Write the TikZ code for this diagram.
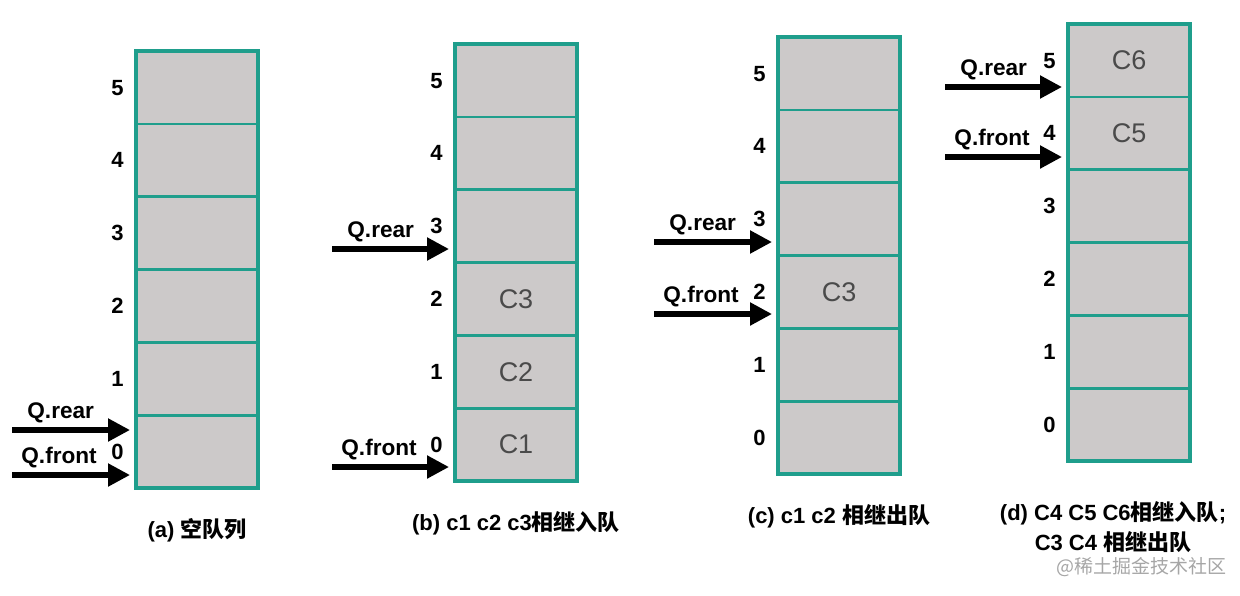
\documentclass[tikz,border=0pt]{standalone}
\usepackage{fontspec}
\setmainfont{Liberation Sans}
\newfontfamily\cjk{Noto Sans CJK SC}
\usetikzlibrary{positioning,arrows.meta}
\definecolor{qteal}{HTML}{1F9E8C}
\definecolor{qgrey}{HTML}{CCC9C9}
\definecolor{qtext}{HTML}{4A4A4A}
\tikzset{
  cellbox/.style={draw=qteal,fill=qgrey,line width=1.4pt,minimum width=61pt,minimum height=36.4pt,inner sep=0pt,outer sep=0pt},
  outerbox/.style={draw=qteal,line width=2pt},
  celltext/.style={text=qtext,font=\fontsize{13.5}{15}\selectfont},
  idx/.style={font=\bfseries\fontsize{11}{13}\selectfont,inner sep=0pt},
  ptr/.style={line width=2.6pt,shorten >=3pt,-{Triangle[length=11pt,width=11pt]}},
  ptrlabel/.style={font=\bfseries\fontsize{11.3}{13}\selectfont,inner sep=0pt,anchor=base west},
  qcaption/.style={font=\bfseries\fontsize{11}{15}\selectfont,align=center,inner sep=0pt},
}
\begin{document}
\begin{tikzpicture}[x=0.5pt,y=-0.5pt]
\useasboundingbox (0,0) rectangle (1240,595);
% the four queues
\foreach \col/\cx/\cy in {a/197/451.6,b/516/444.6,c/839/437.6,d/1129/424.6}{
  \node[cellbox] (\col0) at (\cx,\cy) {};
  \foreach \i [remember=\i as \lasti (initially 0)] in {1,...,5}
    \node[cellbox,above=0pt of \col\lasti] (\col\i) {};
  \draw[outerbox] (\col5.north west) rectangle (\col0.south east);
  \foreach \i in {0,...,5}
    \node[idx,left=6pt of \col\i] (\col n\i) {\i};
}
% elements
\node[celltext] (b0t) at (b0) {C1};
\node[celltext] (b1t) at (b1) {C2};
\node[celltext] (b2t) at (b2) {C3};
\node[celltext] (c2t) at (c2) {C3};
\node[celltext] (d4t) at (d4) {C5};
\node[celltext] (d5t) at (d5) {C6};
% pointers
\coordinate (ra) at (12,430);  \coordinate (fa) at (12,475);
\coordinate (rb) at (332,249); \coordinate (fb) at (332,467);
\coordinate (rc) at (654,242); \coordinate (fc) at (654,314);
\coordinate (rd) at (945,87);  \coordinate (fd) at (945,157);
\foreach \q/\c in {a/a,b/b,c/c,d/d}{
  \draw[ptr] (r\q) -- (r\q -| \c0.west);
  \draw[ptr] (f\q) -- (f\q -| \c0.west);
  \node[ptrlabel] (lr\q) at ([xshift=7.5pt,yshift=6pt]r\q) {Q.rear};
  \node[ptrlabel] (lf\q) at ([xshift=4.5pt,yshift=6pt]f\q) {Q.front};
}
% captions
\node[qcaption,below=15pt of a0] (capa) {(a) {\cjk 空队列}};
\node[qcaption,below=15pt of b0] (capb) {(b) c1 c2 c3{\cjk 相继入队}};
\node[qcaption,below=15pt of c0] (capc) {(c) c1 c2 {\cjk 相继出队}};
\node[qcaption,below=20pt of d0,xshift=-8pt] (capd) {(d) C4 C5 C6{\cjk 相继入队};\\C3 C4 {\cjk 相继出队}};
\node[text=black!35,font=\cjk\fontsize{9.5}{12}\selectfont,inner sep=0pt] (wm) at (1141,567) {@稀土掘金技术社区};
\end{tikzpicture}
\end{document}
